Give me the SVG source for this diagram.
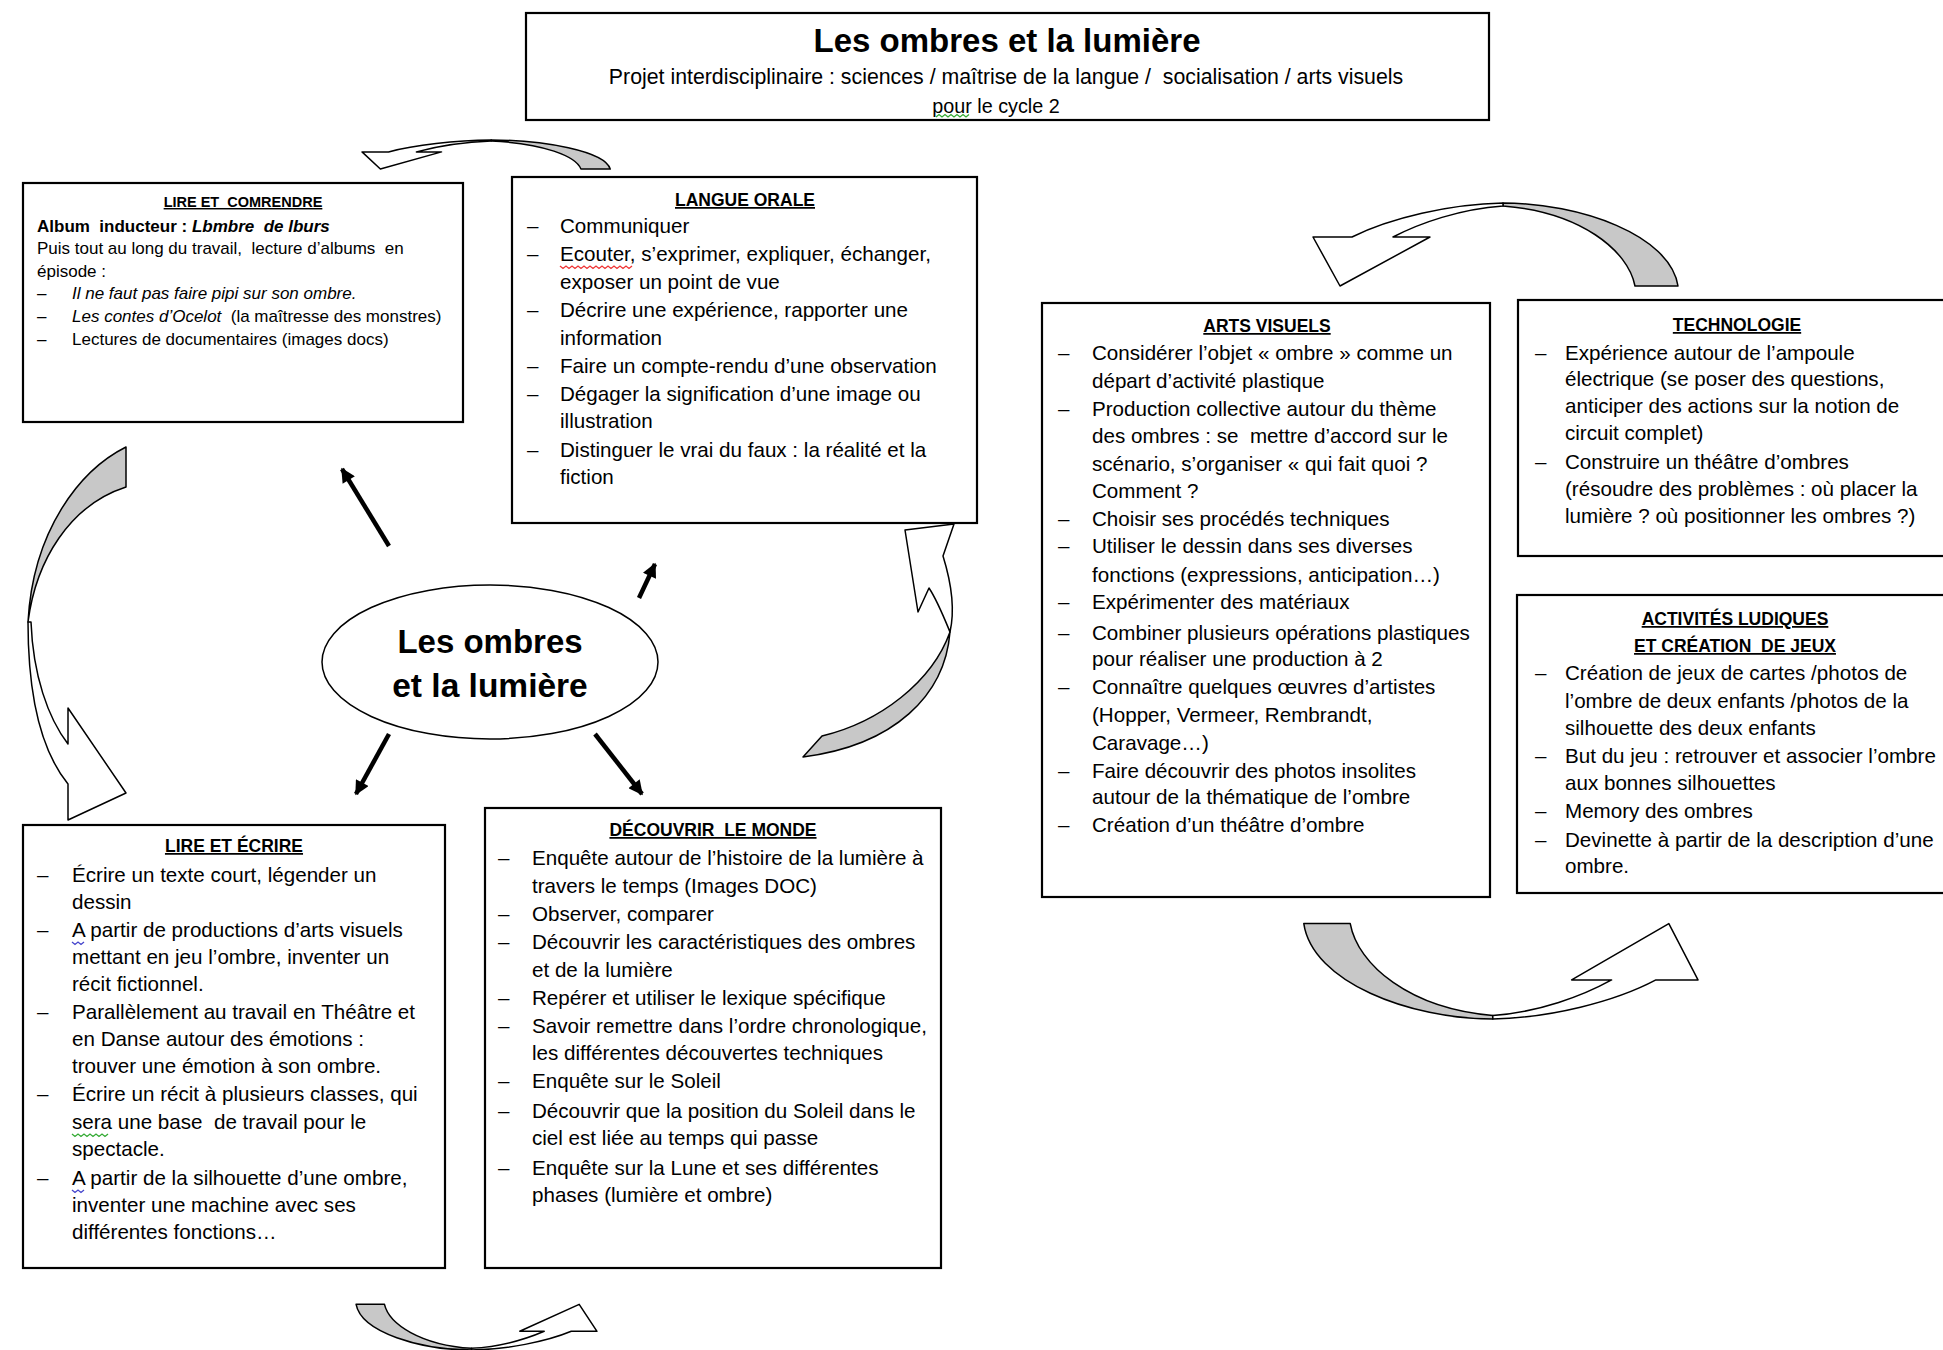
<svg xmlns="http://www.w3.org/2000/svg" width="1943" height="1350" viewBox="0 0 1943 1350">
<defs>
<style>
text{font-family:"Liberation Sans",Arial,sans-serif;fill:#000}
.t{font-size:20.6px}
.s{font-size:17px}
.h{font-size:17.5px;font-weight:bold;text-decoration:underline;text-anchor:middle}
.p{white-space:pre}
.box{fill:#fff;stroke:#000;stroke-width:2.2}
.ln{stroke:#000;stroke-width:4.5;fill:none;marker-end:url(#ah)}
.gr{fill:#c8c8c8;stroke:#000;stroke-width:1.5;stroke-linejoin:round}
.wh{fill:#fff;stroke:#000;stroke-width:1.5;stroke-linejoin:round}
.sq{fill:none;stroke-width:1.3}
</style>
<marker id="ah" viewBox="0 0 10 10" refX="9" refY="5" markerWidth="3.4" markerHeight="3.2" orient="auto" markerUnits="strokeWidth">
<path d="M0,0 L10,5 L0,10 Z" fill="#000"/>
</marker>
<g id="ribbon">
<path class="gr" vector-effect="non-scaling-stroke" d="M190,0 C267,0 357,32 365,83 L322,83 C315,47 267,9 190,3 Z"/>
<path class="wh" vector-effect="non-scaling-stroke" d="M190,0 C137,1 77,15 39,34 L0,34 L27,83 L117,34 L80,34 C107,20 147,6 190,3 Z"/>
</g>
</defs>
<rect width="1943" height="1350" fill="#fff"/>

<g id="title">
<rect class="box" x="526" y="13" width="963" height="107"/>
<text x="1007" y="52" text-anchor="middle" font-size="33" font-weight="bold">Les ombres et la lumière</text>
<text class="p" x="1006" y="84" text-anchor="middle" font-size="21.3">Projet interdisciplinaire : sciences / maîtrise de la langue /  socialisation / arts visuels</text>
<text x="996" y="113" text-anchor="middle" font-size="19.8">pour le cycle 2</text>
<path class="sq" stroke="#3a3" d="M936,117 l3,-2.5 l3,2.5 l3,-2.5 l3,2.5 l3,-2.5 l3,2.5 l3,-2.5 l3,2.5 l3,-2.5 l3,2.5 l3,-2.5"/>
</g>

<g id="connectors">
<line class="ln" x1="389" y1="546" x2="342" y2="469"/>
<line class="ln" x1="639" y1="598" x2="655" y2="564"/>
<line class="ln" x1="389" y1="734" x2="356" y2="794"/>
<line class="ln" x1="595" y1="734" x2="642" y2="794"/>
<use href="#ribbon" transform="translate(362,140) scale(0.68,0.35)"/>
<use href="#ribbon" transform="translate(1313,203)"/>
<use href="#ribbon" transform="translate(1698,1019) rotate(180) scale(1.08,1.15)"/>
<use href="#ribbon" transform="translate(597,1350) rotate(180) scale(0.66,0.55)"/>
<path class="gr" d="M126,447 C80,470 33,530 28,622 C36,560 70,505 126,487 Z"/>
<path class="wh" d="M28,622 C28,700 42,752 68,784 L68,820 L126,793 L68,708 L68,744 C48,718 33,675 31,622 Z"/>
<path class="wh" d="M905,530 L954,524 L943,556 C952,585 955,610 950,632 C943,615 937,600 929,588 L918,612 Z"/>
<path class="gr" d="M950,632 C945,695 895,745 803,757 L822,736 C880,722 932,682 950,632 Z"/>
</g>

<g id="center">
<ellipse cx="490" cy="662" rx="168" ry="77" fill="#fff" stroke="#000" stroke-width="1.5"/>
<text x="490" y="653" text-anchor="middle" font-size="33" font-weight="bold">Les ombres</text>
<text x="490" y="697" text-anchor="middle" font-size="33.5" font-weight="bold">et la lumière</text>
</g>

<g id="lire-comprendre">
<rect class="box" x="23" y="183" width="440" height="239"/>
<text class="h p" x="243" y="207" style="font-size:14.5px">LIRE ET  COMRENDRE</text>
<text class="s p" x="37" y="232" font-weight="bold">Album  inducteur : <tspan font-style="italic">Lbmbre  de lburs</tspan></text>
<text class="s p" x="37" y="254">Puis tout au long du travail,  lecture d’albums  en</text>
<text class="s" x="37" y="277">épisode :</text>
<text class="s" x="37" y="299">–</text><text class="s" x="72" y="299" font-style="italic">Il ne faut pas faire pipi sur son ombre.</text>
<text class="s" x="37" y="322">–</text><text class="s p" x="72" y="322"><tspan font-style="italic">Les contes d’Ocelot</tspan>  (la maîtresse des monstres)</text>
<text class="s" x="37" y="345">–</text><text class="s" x="72" y="345">Lectures de documentaires (images docs)</text>
</g>

<g id="langue-orale">
<rect class="box" x="512" y="177" width="465" height="346"/>
<text class="h" x="745" y="206">LANGUE ORALE</text>
<g class="t">
<text x="527" y="233">–</text><text x="560" y="233">Communiquer</text>
<text x="527" y="261">–</text><text x="560" y="261">Ecouter, s’exprimer, expliquer, échanger,</text>
<text x="560" y="289">exposer un point de vue</text>
<text x="527" y="317">–</text><text x="560" y="317">Décrire une expérience, rapporter une</text>
<text x="560" y="345">information</text>
<text x="527" y="373">–</text><text x="560" y="373">Faire un compte-rendu d’une observation</text>
<text x="527" y="401">–</text><text x="560" y="401">Dégager la signification d’une image ou</text>
<text x="560" y="428">illustration</text>
<text x="527" y="457">–</text><text x="560" y="457">Distinguer le vrai du faux : la réalité et la</text>
<text x="560" y="484">fiction</text>
</g>
<path class="sq" stroke="#e33" d="M560,266 l3,2.5 l3,-2.5 l3,2.5 l3,-2.5 l3,2.5 l3,-2.5 l3,2.5 l3,-2.5 l3,2.5 l3,-2.5 l3,2.5 l3,-2.5 l3,2.5 l3,-2.5 l3,2.5 l3,-2.5 l3,2.5 l3,-2.5 l3,2.5 l3,-2.5 l3,2.5 l3,-2.5 l3,2.5 l3,-2.5"/>
</g>

<g id="lire-ecrire">
<rect class="box" x="23" y="825" width="422" height="443"/>
<text class="h" x="234" y="852">LIRE ET ÉCRIRE</text>
<g class="t">
<text x="37" y="882">–</text><text x="72" y="882">Écrire un texte court, légender un</text>
<text x="72" y="909">dessin</text>
<text x="37" y="937">–</text><text x="72" y="937">A partir de productions d’arts visuels</text>
<text x="72" y="964">mettant en jeu l’ombre, inventer un</text>
<text x="72" y="991">récit fictionnel.</text>
<text x="37" y="1019">–</text><text x="72" y="1019">Parallèlement au travail en Théâtre et</text>
<text x="72" y="1046">en Danse autour des émotions :</text>
<text x="72" y="1073">trouver une émotion à son ombre.</text>
<text x="37" y="1101">–</text><text x="72" y="1101">Écrire un récit à plusieurs classes, qui</text>
<text class="p" x="72" y="1129">sera une base  de travail pour le</text>
<text x="72" y="1156">spectacle.</text>
<text x="37" y="1185">–</text><text x="72" y="1185">A partir de la silhouette d’une ombre,</text>
<text x="72" y="1212">inventer une machine avec ses</text>
<text x="72" y="1239">différentes fonctions…</text>
</g>
<path class="sq" stroke="#44c" d="M72,942 l3,2.5 l3,-2.5 l3,2.5 l3,-2.5"/>
<path class="sq" stroke="#44c" d="M72,1190 l3,2.5 l3,-2.5 l3,2.5 l3,-2.5"/>
<path class="sq" stroke="#3a3" d="M72,1134 l3,2.5 l3,-2.5 l3,2.5 l3,-2.5 l3,2.5 l3,-2.5 l3,2.5 l3,-2.5 l3,2.5 l3,-2.5 l3,2.5 l3,-2.5"/>
</g>

<g id="decouvrir-monde">
<rect class="box" x="485" y="808" width="456" height="460"/>
<text class="h p" x="713" y="836">DÉCOUVRIR  LE MONDE</text>
<g class="t">
<text x="498" y="865">–</text><text x="532" y="865">Enquête autour de l’histoire de la lumière à</text>
<text x="532" y="893">travers le temps (Images DOC)</text>
<text x="498" y="921">–</text><text x="532" y="921">Observer, comparer</text>
<text x="498" y="949">–</text><text x="532" y="949">Découvrir les caractéristiques des ombres</text>
<text x="532" y="977">et de la lumière</text>
<text x="498" y="1005">–</text><text x="532" y="1005">Repérer et utiliser le lexique spécifique</text>
<text x="498" y="1033">–</text><text x="532" y="1033">Savoir remettre dans l’ordre chronologique,</text>
<text x="532" y="1060">les différentes découvertes techniques</text>
<text x="498" y="1088">–</text><text x="532" y="1088">Enquête sur le Soleil</text>
<text x="498" y="1118">–</text><text x="532" y="1118">Découvrir que la position du Soleil dans le</text>
<text x="532" y="1145">ciel est liée au temps qui passe</text>
<text x="498" y="1175">–</text><text x="532" y="1175">Enquête sur la Lune et ses différentes</text>
<text x="532" y="1202">phases (lumière et ombre)</text>
</g>
</g>

<g id="arts-visuels">
<rect class="box" x="1042" y="303" width="448" height="594"/>
<text class="h" x="1267" y="332">ARTS VISUELS</text>
<g class="t">
<text x="1058" y="360">–</text><text x="1092" y="360">Considérer l’objet « ombre » comme un</text>
<text x="1092" y="388">départ d’activité plastique</text>
<text x="1058" y="416">–</text><text x="1092" y="416">Production collective autour du thème</text>
<text class="p" x="1092" y="443">des ombres : se  mettre d’accord sur le</text>
<text x="1092" y="471">scénario, s’organiser « qui fait quoi ?</text>
<text x="1092" y="498">Comment ?</text>
<text x="1058" y="526">–</text><text x="1092" y="526">Choisir ses procédés techniques</text>
<text x="1058" y="553">–</text><text x="1092" y="553">Utiliser le dessin dans ses diverses</text>
<text x="1092" y="582">fonctions (expressions, anticipation…)</text>
<text x="1058" y="609">–</text><text x="1092" y="609">Expérimenter des matériaux</text>
<text x="1058" y="640">–</text><text x="1092" y="640">Combiner plusieurs opérations plastiques</text>
<text x="1092" y="666">pour réaliser une production à 2</text>
<text x="1058" y="694">–</text><text x="1092" y="694">Connaître quelques œuvres d’artistes</text>
<text x="1092" y="722">(Hopper, Vermeer, Rembrandt,</text>
<text x="1092" y="750">Caravage…)</text>
<text x="1058" y="778">–</text><text x="1092" y="778">Faire découvrir des photos insolites</text>
<text x="1092" y="804">autour de la thématique de l’ombre</text>
<text x="1058" y="832">–</text><text x="1092" y="832">Création d’un théâtre d’ombre</text>
</g>
</g>

<g id="technologie">
<rect class="box" x="1518" y="300" width="450" height="256"/>
<text class="h" x="1737" y="331">TECHNOLOGIE</text>
<g class="t">
<text x="1535" y="360">–</text><text x="1565" y="360">Expérience autour de l’ampoule</text>
<text x="1565" y="386">électrique (se poser des questions,</text>
<text x="1565" y="413">anticiper des actions sur la notion de</text>
<text x="1565" y="440">circuit complet)</text>
<text x="1535" y="469">–</text><text x="1565" y="469">Construire un théâtre d’ombres</text>
<text x="1565" y="496">(résoudre des problèmes : où placer la</text>
<text x="1565" y="523">lumière ? où positionner les ombres ?)</text>
</g>
</g>

<g id="activites-ludiques">
<rect class="box" x="1517" y="595" width="450" height="298"/>
<text class="h" x="1735" y="625">ACTIVITÉS LUDIQUES</text>
<text class="h p" x="1735" y="652">ET CRÉATION  DE JEUX</text>
<g class="t">
<text x="1535" y="680">–</text><text x="1565" y="680">Création de jeux de cartes /photos de</text>
<text x="1565" y="708">l’ombre de deux enfants /photos de la</text>
<text x="1565" y="735">silhouette des deux enfants</text>
<text x="1535" y="763">–</text><text x="1565" y="763">But du jeu : retrouver et associer l’ombre</text>
<text x="1565" y="790">aux bonnes silhouettes</text>
<text x="1535" y="818">–</text><text x="1565" y="818">Memory des ombres</text>
<text x="1535" y="847">–</text><text x="1565" y="847">Devinette à partir de la description d’une</text>
<text x="1565" y="873">ombre.</text>
</g>
</g>
</svg>
